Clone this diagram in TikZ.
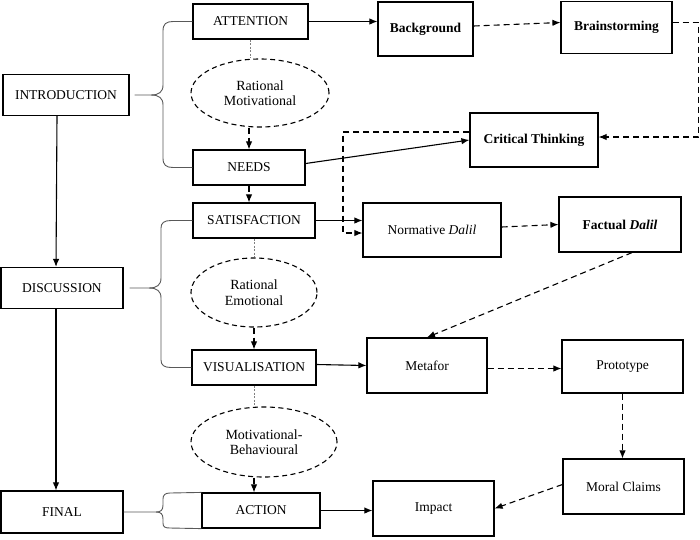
\documentclass[tikz,border=0pt]{standalone}
\usepackage{fontspec}
\setmainfont{Liberation Serif}
\usetikzlibrary{arrows.meta,shapes.geometric,calc}
\begin{document}
\begin{tikzpicture}[x=1pt,y=-1pt,
  box/.style={draw,line width=1.2pt,rectangle,inner sep=0pt,font=\fontsize{13.5}{16}\selectfont},
  bbox/.style={box,font=\fontsize{13.5}{16}\selectfont\bfseries},
  oval/.style={draw,ellipse,inner sep=0pt,line width=1.1pt,dash pattern=on 5pt off 3.5pt,align=center,font=\fontsize{14}{15.5}\selectfont},
  arr/.style={line width=1.1pt,-{Latex[length=8pt,width=6.5pt]}},
  darr/.style={arr,dash pattern=on 6pt off 4pt},
  dotl/.style={draw=gray,line width=0.8pt,dash pattern=on 2pt off 1.5pt},
  brace/.style={draw=gray!70!black,line width=0.9pt}]
\useasboundingbox (0,0) rectangle (700,539);
% boxes
\node[box,minimum width=126pt,minimum height=41pt] (intro) at (66,95) {INTRODUCTION};
\node[box,minimum width=115pt,minimum height=35pt] (att) at (250.5,21.5) {ATTENTION};
\node[box,minimum width=112pt,minimum height=35pt] (needs) at (249,167.5) {NEEDS};
\node[oval,minimum width=138pt,minimum height=68pt] (ell1) at (260,93) {Rational\\Motivational};
\node[bbox,minimum width=95pt,minimum height=54pt] (bg) at (425.5,29) {Background};
\node[bbox,minimum width=111pt,minimum height=52pt] (brain) at (616.5,27.5) {Brainstorming};
\node[bbox,minimum width=128pt,minimum height=54pt] (crit) at (534,140) {Critical Thinking};
\node[box,minimum width=122pt,minimum height=35pt] (sat) at (254,220.5) {SATISFACTION};
\node[box,minimum width=138pt,minimum height=54pt] (norm) at (432,230) {Normative \textit{Dalil}};
\node[bbox,minimum width=122pt,minimum height=55pt] (fact) at (620,224.5) {Factual \textit{Dalil}};
\node[box,minimum width=122pt,minimum height=41pt] (disc) at (62,288) {DISCUSSION};
\node[oval,minimum width=126pt,minimum height=69pt] (ell2) at (254,292.5) {Rational\\Emotional};
\node[box,minimum width=124pt,minimum height=35pt] (vis) at (254,367.5) {VISUALISATION};
\node[box,minimum width=120pt,minimum height=55pt] (meta) at (427,365.5) {Metafor};
\node[box,minimum width=121pt,minimum height=53pt] (proto) at (622.5,366.5) {Prototype};
\node[oval,minimum width=146pt,minimum height=70pt] (ell3) at (264,442) {Motivational-\\Behavioural};
\node[box,minimum width=122pt,minimum height=42pt] (final) at (62,512) {FINAL};
\node[box,minimum width=118pt,minimum height=35pt] (action) at (261,510.5) {ACTION};
\node[box,minimum width=121pt,minimum height=55pt] (impact) at (433.5,508.5) {Impact};
\node[box,minimum width=121pt,minimum height=55pt] (moral) at (623.5,486.5) {Moral Claims};
% braces
\coordinate (bi) at (151,95);
\draw[brace] ([xshift=5pt]intro.east) -- (bi) .. controls (159,95) and (163,92) .. (163,85) -- (163,31) .. controls (163,24) and (166,21.5) .. (173,21.5) -- (att.west);
\draw[brace] (bi) .. controls (159,95) and (163,98) .. (163,105) -- (163,158) .. controls (163,165) and (166,167.5) .. (173,167.5) -- (needs.west);
\coordinate (bd) at (149,288);
\draw[brace] ([xshift=6pt]disc.east) -- (bd) .. controls (157,288) and (161,285) .. (161,278) -- (161,228) .. controls (161,223) and (164,220.5) .. (171,220.5) -- (sat.west);
\draw[brace] (bd) .. controls (157,288) and (161,291) .. (161,298) -- (161,360) .. controls (161,365) and (164,367.5) .. (171,367.5) -- (vis.west);
\coordinate (bf) at (156,512);
\draw[brace] (final.east) -- (bf) .. controls (161,512) and (163,510) .. (163,505) -- (163,499) .. controls (163,495) and (165,493) .. (170,493) -- (action.north west);
\draw[brace] (bf) .. controls (161,512) and (163,514) .. (163,519) -- (163,523) .. controls (163,527) and (165,528) .. (170,528) -- (action.south west);
% main vertical arrows
\draw[arr] ([xshift=-9pt]intro.south) -- ([xshift=-6pt]disc.north);
\draw[arr] ([xshift=-6pt]disc.south) -- ([xshift=-6pt]final.north);
% ellipse links
\draw[dotl] (att.south) -- (att.south |- ell1.north);
\draw[darr] (needs.north |- ell1.south) -- (needs.north);
\draw[darr] (needs.south) -- (needs.south |- sat.north);
\draw[dotl] (sat.south) -- (ell2.north);
\draw[darr] (ell2.south) -- (ell2.south |- vis.north);
\draw[dotl] (vis.south) -- (vis.south |- ell3.north);
\draw[darr] (vis.south |- ell3.south) -- (vis.south |- action.north);
% right-hand connectors
\draw[arr] (att.east) -- (bg.west |- att.east);
\draw[darr] ([yshift=3pt]bg.east) -- ([yshift=5pt]brain.west);
\draw[darr] ([yshift=5pt]brain.east) -- ++(26,0) |- ([yshift=3pt]crit.east);
\draw[arr] ([yshift=4pt]needs.east) -- (crit.west);
\coordinate (k2) at (343,233);
\draw[darr] ([yshift=8pt]crit.west) -| (k2) -- (norm.west |- k2);
\draw[arr] (sat.east) -- (norm.west |- sat.east);
\draw[darr] ([yshift=3pt]norm.east) -- (fact.west);
\draw[darr] ([xshift=12pt]fact.south) -- (meta.north);
\draw[arr] ([yshift=3pt]vis.east) -- (meta.west);
\draw[darr] ([yshift=-3pt]meta.east) -- ([yshift=-2pt]proto.west);
\draw[darr] (proto.south) -- (proto.south |- moral.north);
\draw[darr] ([yshift=2pt]moral.west) -- (impact.east);
\draw[arr] (action.east) -- (impact.west |- action.east);
\end{tikzpicture}
\end{document}
